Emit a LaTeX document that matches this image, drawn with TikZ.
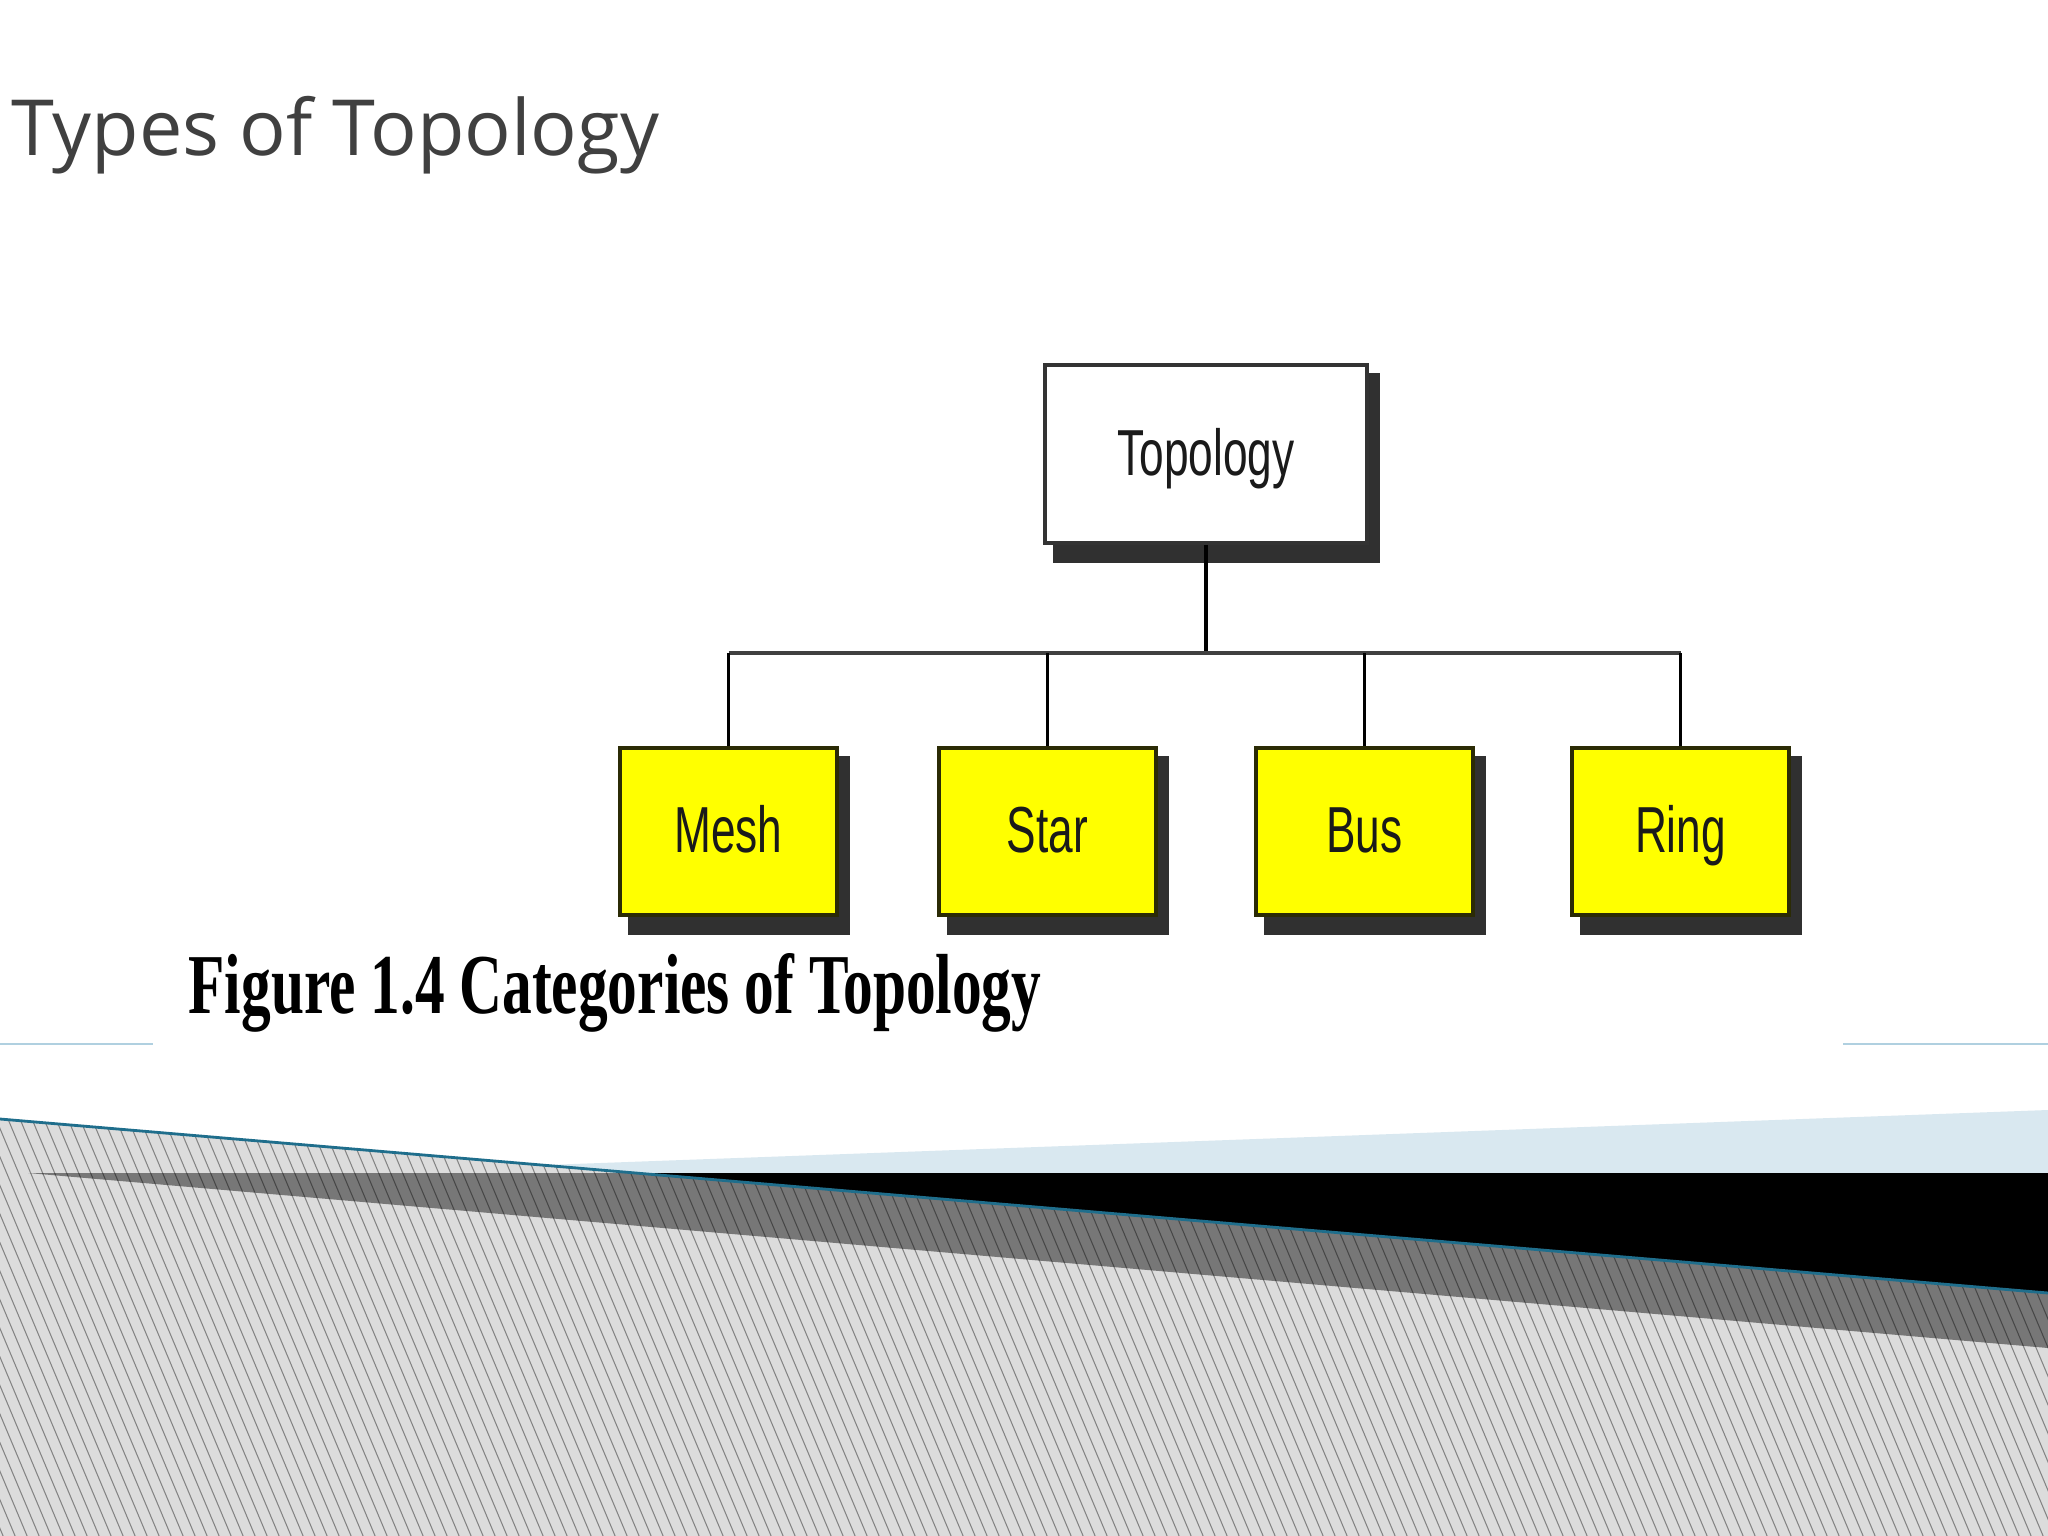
\documentclass[tikz,border=0pt]{standalone}
\usepackage{fontspec}
\setmainfont{Liberation Serif}
\newfontfamily\titlefont{Open Sans}
\newfontfamily\boxfont{Liberation Sans}
\usetikzlibrary{calc,backgrounds}
\definecolor{titlegray}{HTML}{404040}
\definecolor{boxyellow}{HTML}{FFFF00}
\definecolor{yedge}{HTML}{2B2B05}
\definecolor{shadowc}{HTML}{303030}
\definecolor{tealline}{HTML}{1F6E8C}
\definecolor{lightblue}{HTML}{D9E8F0}
\definecolor{sepblue}{HTML}{B0D0E0}
\definecolor{hatchbg}{HTML}{DCDCDC}
\definecolor{darkwedge}{HTML}{777777}
\definecolor{labeltext}{HTML}{1A1A1A}
\begin{document}
\begin{tikzpicture}[x=0.01cm,y=-0.01cm,
  catbox/.style={draw=yedge, line width=1.1pt, fill=boxyellow,
    minimum width=2.17cm, minimum height=1.67cm, inner sep=0pt,
    font=\boxfont\fontsize{18.5}{20}\selectfont, text=labeltext,
    text height=0.5cm, text depth=0.08cm},
  rootbox/.style={catbox, draw=black!80, fill=white,
    minimum width=3.22cm, minimum height=1.78cm},
  wire/.style={line width=1pt, draw=black},
  busline/.style={line width=1.4pt, draw=black!75},
  hatch/.style={line width=0.3pt, draw=black, draw opacity=0.4}
]
\useasboundingbox (0,0) rectangle (2048,1536);

% title
\node[anchor=base west, inner sep=0pt, text=titlegray,
  font=\titlefont\fontsize{22}{26}\selectfont] (title) at (11,155)
  {\resizebox{6.47cm}{!}{Types of Topology}};

% boxes
\node[rootbox] (topo) at (1206,454) {\scalebox{0.68}[1]{Topology}};
\node[catbox] (mesh) at (728.5,831.5) {\scalebox{0.68}[1]{Mesh}};
\node[catbox] (star) at (1047.5,831.5) {\scalebox{0.68}[1]{Star}};
\node[catbox] (bus) at (1364.5,831.5) {\scalebox{0.68}[1]{Bus}};
\node[catbox] (ring) at (1680.5,831.5) {\scalebox{0.68}[1]{Ring}};

% shadows and white page
\begin{scope}[on background layer]
  \fill[white] (0,0) rectangle (2048,1536);
  \foreach \n in {topo,mesh,star,bus,ring}
    \fill[shadowc] ($(\n.north west)+(10,10)$) rectangle ($(\n.south east)+(11,18)$);
\end{scope}

% connectors
\coordinate (junc) at (topo.south |- 0,653);
\draw[wire] (topo.south) -- (junc);
\draw[busline] (mesh.north |- junc) -- (ring.north |- junc);
\foreach \n in {mesh,star,bus,ring}
  \draw[wire] (\n.north |- junc) -- (\n.north);

% caption
\node[anchor=base west, inner sep=0pt,
  font=\bfseries\fontsize{24}{28}\selectfont] (caption) at (188,1013)
  {\resizebox{8.52cm}{0.6cm}{Figure 1.4 Categories of Topology}};

% separator lines
\draw[sepblue, line width=0.5pt] (0,1044) -- (153,1044);
\draw[sepblue, line width=0.5pt] (1843,1044) -- (2048,1044);

% bottom decoration
\fill[lightblue] (300,1174) -- (2048,1110) -- (2048,1174) -- cycle;
\fill[black] (600,1173) -- (2048,1173) -- (2048,1310) -- (600,1200) -- cycle;
\fill[hatchbg] (0,1119) -- (2048,1293) -- (2048,1536) -- (0,1536) -- cycle;
\fill[darkwedge] (28,1173) -- (636,1173) -- (2048,1293) -- (2048,1348) -- cycle;
\begin{scope}
  \clip (0,1119) -- (2048,1293) -- (2048,1536) -- (0,1536) -- cycle;
  \foreach \i in {-20,...,172}
    \draw[hatch] (\i*12,1100) -- ++(189,450);
\end{scope}
\draw[tealline, line width=0.8pt] (0,1119) -- (2048,1293);
\end{tikzpicture}
\end{document}
